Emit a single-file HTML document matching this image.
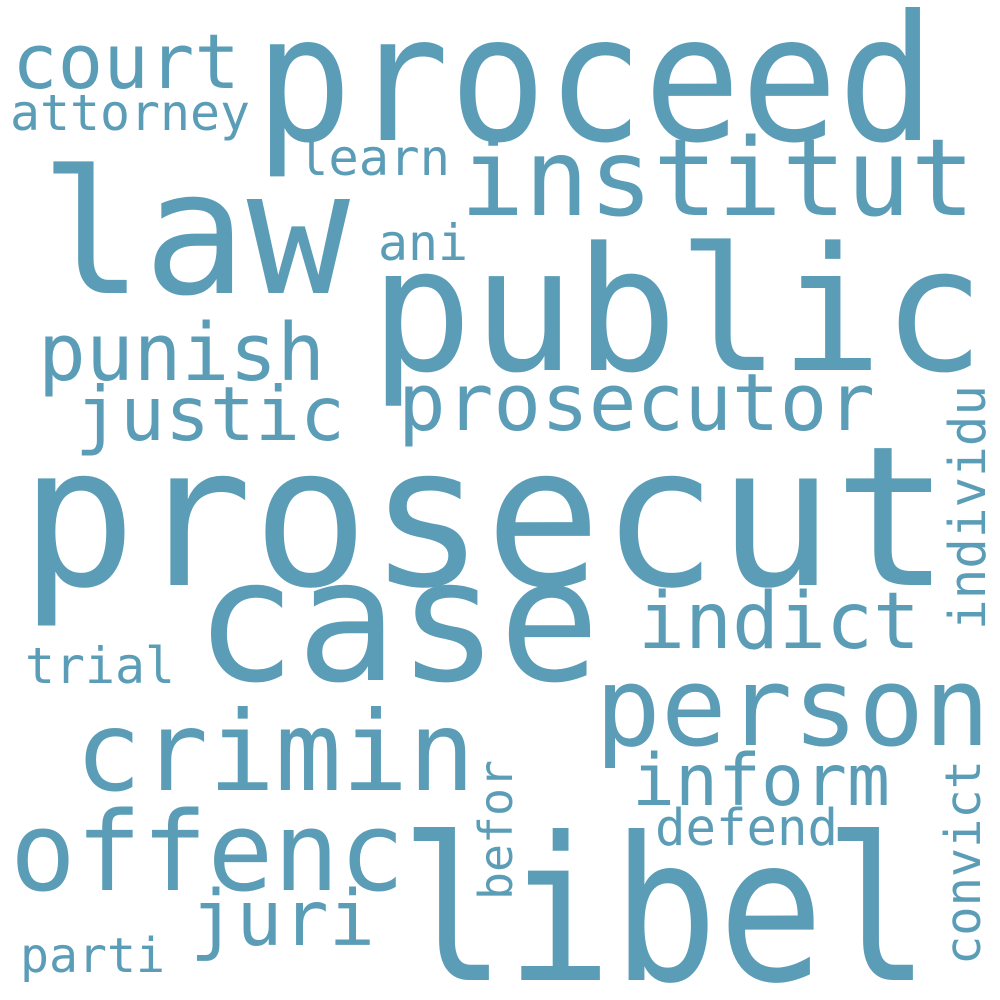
<!DOCTYPE html>
<html><head><meta charset="utf-8"><style>
html,body{margin:0;padding:0;background:#fff;width:1000px;height:1000px;overflow:hidden}
text{font-family:"DejaVu Sans Mono","Liberation Mono",monospace;fill:#5b9db7}
</style></head><body>
<svg width="1000" height="1000" viewBox="0 0 1000 1000" xmlns="http://www.w3.org/2000/svg">
<rect width="1000" height="1000" fill="#fff"/>
<g id="words"></g>
</svg>
<script>
const words = ["proceed","court","attorney","law","institut","learn","ani","public","punish","justic","prosecutor","individu","prosecut","case","indict","trial","person","crimin","inform","offenc","libel","befor","defend","convict","juri","parti"];
const sizes = [175,76,50,172,107,50,50,172,79,75,79,51,195,170,78,50,110,111,71,110,200,46,51,49,77,48];
const layout = [
 [255,140,680,0],[12,88,228,0],[10,130,240,0],[40,293,310,0],[460,215,515,0],
 [298,175,152,0],[378,260,90,0],[370,370,615,0],[38,380,287,0],[75,440,270,0],
 [398,430,477,0],[985,630,245,1],[20,585,930,0],[195,680,405,0],[638,648,282,0],
 [25,683,150,0],[595,745,395,0],[75,790,400,0],[632,805,258,0],[10,890,395,0],
 [400,980,530,0],[512,900,140,1],[655,845,183,0],[980,965,205,1],[190,945,185,0],[20,972,145,0]
];
const g = document.getElementById('words');
const NS = 'http://www.w3.org/2000/svg';
words.forEach((w,i)=>{
  const [x,y,len,rot] = layout[i];
  const t = document.createElementNS(NS,'text');
  
  
  t.setAttribute('x', x);
  t.setAttribute('y', y);
  t.setAttribute('font-size', sizes[i]);
  t.setAttribute('textLength', len);
  t.setAttribute('lengthAdjust', 'spacingAndGlyphs');
  if (rot) t.setAttribute('transform', 'rotate(-90 ' + x + ' ' + y + ')');
  t.textContent = w;
  g.appendChild(t);
});
</script>
</body></html>
